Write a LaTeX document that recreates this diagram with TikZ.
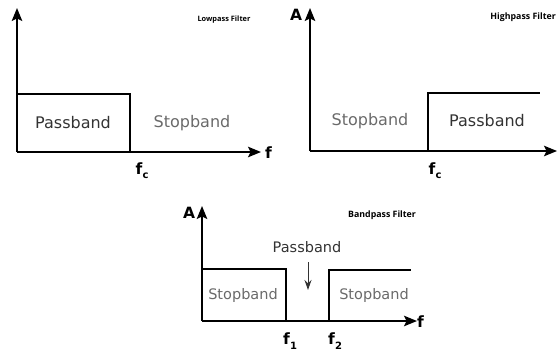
\documentclass[tikz,border=0pt]{standalone}
\usepackage{fontspec}
\setmainfont{DejaVu Sans}
\newfontfamily\titlefont{Open Sans}
\usetikzlibrary{arrows.meta}
\definecolor{passcol}{HTML}{333333}
\definecolor{stopcol}{HTML}{6A6A6A}
\newcommand{\fsub}[1]{f\kern0.3pt\raisebox{-0.28em}{\fontsize{10}{10}\selectfont #1}}
\tikzset{
  axis/.style={line width=1.7pt, -{Stealth[length=13pt,width=10.5pt,inset=2.5pt]}},
  curve/.style={line width=1.2pt},
  bandtxt/.style={font=\fontsize{16}{18}\selectfont, inner sep=0pt},
  bandtxtsm/.style={font=\fontsize{14.5}{16}\selectfont, inner sep=0pt},
  lab/.style={font=\bfseries\fontsize{15.5}{16}\selectfont, inner sep=0pt},
  ttl/.style={font=\titlefont\bfseries\fontsize{7.4}{9}\selectfont, inner sep=0pt},
  ttlbig/.style={font=\titlefont\bfseries\fontsize{8.8}{10}\selectfont, inner sep=0pt},
}
\begin{document}
\begin{tikzpicture}[x=1pt,y=-1pt]
\useasboundingbox (0,0) rectangle (559,351);
% ---------- Lowpass ----------
\coordinate (lo) at (17,152);
\coordinate (ltop) at (17,8);
\coordinate (lright) at (261,152);
\coordinate (lb1) at (17,94);
\coordinate (lb2) at (130,94);
\coordinate (lc) at (130,152);
\draw[axis] (lo) -- (ltop);
\draw[axis] (lo) -- (lright);
\draw[curve] (lb1) -- (lb2) -- (lc);
\node[bandtxt, text=passcol] (lpass) at (73,123) {Passband};
\node[bandtxt, text=stopcol] (lstop) at (192,123) {Stopband};
\node[lab, anchor=west] (lf) at (265,153) {f};
\node[lab] (lfc) at (142,171) {\fsub{c}};
\node[ttl] (ltitle) at (224,20) {Lowpass Filter};
% ---------- Highpass ----------
\coordinate (ho) at (310,151);
\coordinate (htop) at (310,8);
\coordinate (hright) at (557,151);
\coordinate (hc) at (428,151);
\coordinate (hs1) at (428,93);
\coordinate (hs2) at (540,93);
\draw[axis] (ho) -- (htop);
\draw[axis] (ho) -- (hright);
\draw[curve] (hc) -- (hs1) -- (hs2);
\node[bandtxt, text=stopcol] (hstop) at (370,121) {Stopband};
\node[bandtxt, text=passcol] (hpass) at (487,121) {Passband};
\node[lab] (hA) at (296,15) {A};
\node[lab] (hfc) at (435,171) {\fsub{c}};
\node[ttlbig, anchor=east] (htitle) at (556,17) {Highpass Filter};
% ---------- Bandpass ----------
\coordinate (bo) at (202,321);
\coordinate (btop) at (202,206);
\coordinate (bright) at (417,321);
\coordinate (bl1) at (202,269);
\coordinate (bl2) at (286,269);
\coordinate (bl3) at (286,321);
\coordinate (br1) at (329,321);
\coordinate (br2) at (329,270);
\coordinate (br3) at (411,270);
\draw[axis] (bo) -- (btop);
\draw[axis] (bo) -- (bright);
\draw[curve] (bl1) -- (bl2) -- (bl3);
\draw[curve] (br1) -- (br2) -- (br3);
\node[bandtxtsm, text=stopcol] (bstop1) at (243,295) {Stopband};
\node[bandtxtsm, text=stopcol] (bstop2) at (374,295) {Stopband};
\node[bandtxtsm, text=passcol] (bpass) at (307,247) {Passband};
\coordinate (barr) at (308,290);
\draw[line width=1pt, draw=passcol, -{Stealth[length=10pt,width=7pt]}] (308,262) -- (barr);
\node[lab] (bA) at (189,213) {A};
\node[lab, anchor=west] (bf) at (417,322) {f};
\node[lab] (bf1) at (290,341) {\fsub{1}};
\node[lab] (bf2) at (335,341) {\fsub{2}};
\node[ttlbig, anchor=west] (btitle) at (348,215) {Bandpass Filter};
\end{tikzpicture}
\end{document}
